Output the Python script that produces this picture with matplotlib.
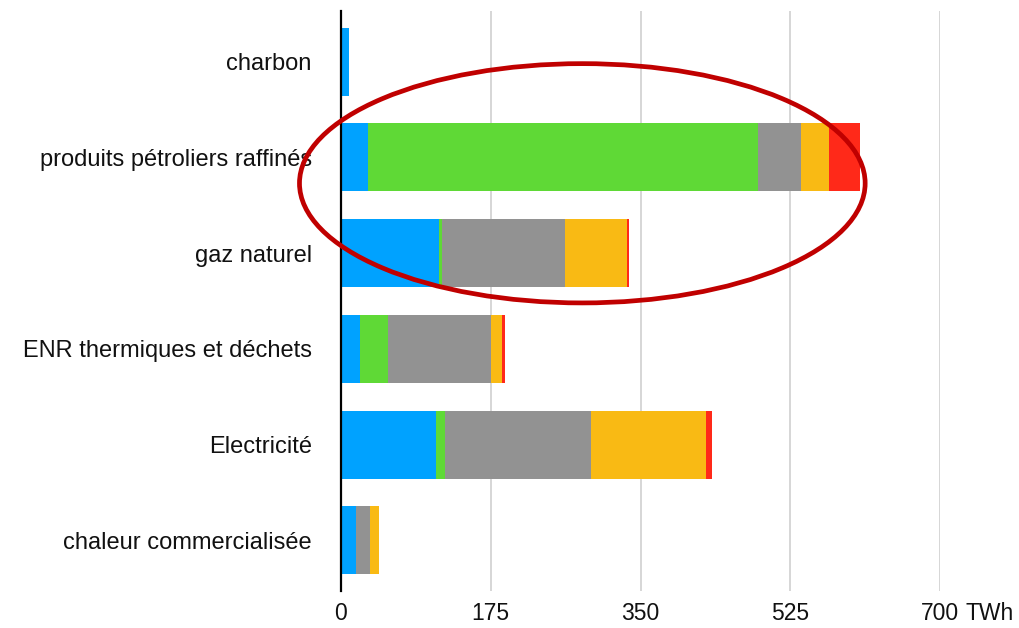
import matplotlib
matplotlib.use("Agg")
import matplotlib.pyplot as plt
from matplotlib.patches import Ellipse
from matplotlib.transforms import offset_copy
import numpy as np

# Final energy by source (TWh), split into five consuming groups
categories = [
    "charbon",
    "produits pétroliers raffinés",
    "gaz naturel",
    "ENR thermiques et déchets",
    "Electricité",
    "chaleur commercialisée",
]
group_blue = [9, 32, 115, 22, 111, 17.5]
group_green = [0, 455, 3.5, 33, 10, 0]
group_gray = [0, 50, 143, 120, 171, 16.5]
group_orange = [0, 33, 73, 13.5, 134, 11]
group_red = [0, 36, 2, 3.5, 8, 0]

x_ticks = [0, 175, 350, 525, 700]
x_tick_labels = ["0", "175", "350", "525", "700"]
unit_label = "TWh"

series = [group_blue, group_green, group_gray, group_orange, group_red]
colors = ["#00A2FF", "#5FD936", "#929292", "#F9BA14", "#FF2919"]

plt.rcParams["font.family"] = ["Liberation Sans", "DejaVu Sans"]

fig = plt.figure(figsize=(10.2, 6.28), dpi=100)
ax = fig.add_axes([0.3343, 0.0589, 0.9216 - 0.3343, 0.9825 - 0.0589])

y = np.arange(len(categories))
left = np.zeros(len(categories))
for vals, col in zip(series, colors):
    vals = np.asarray(vals, dtype=float)
    ax.barh(y, vals, left=left, height=0.71, color=col, linewidth=0, zorder=2)
    left += vals

ax.set_xlim(0, 700)
ax.set_ylim(len(categories) - 0.47, -0.53)

ax.set_xticks(x_ticks)
ax.set_xticklabels(x_tick_labels)
ax.set_yticks(y)
ax.set_yticklabels(categories)

text_color = "#111111"
ax.tick_params(axis="y", length=0, pad=21, labelsize=17, labelcolor=text_color)
x_pad = 8
ax.tick_params(axis="x", length=0, pad=x_pad, labelsize=16.5, labelcolor=text_color)

ax.grid(axis="x", color="#cfcfcf", linewidth=1.2, zorder=0)
ax.set_axisbelow(True)
for side in ["top", "right", "bottom"]:
    ax.spines[side].set_visible(False)
ax.spines["left"].set_color("black")
ax.spines["left"].set_linewidth(1.6)
ax.spines["left"].set_zorder(3)

# unit written after the last tick label
ax.text(730, 0, unit_label, fontsize=16.5, color=text_color, ha="left", va="top",
        transform=offset_copy(ax.get_xaxis_transform(), fig=fig, y=-x_pad, units="points"),
        clip_on=False)

# highlight around the oil products and natural gas bars
ring = Ellipse((282, 1.27), width=661, height=2.50, fill=False,
               edgecolor="#C00000", linewidth=3.4, zorder=5, clip_on=False)
ax.add_patch(ring)

fig.savefig("out.png", dpi=100, facecolor="white")
